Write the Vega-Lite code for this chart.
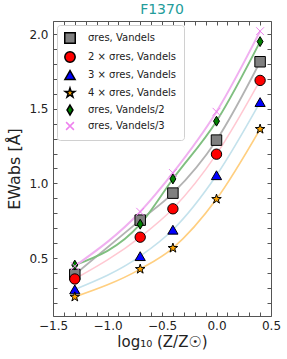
{
  "$schema": "https://vega.github.io/schema/vega-lite/v6.json",
  "width": 218,
  "height": 295,
  "autosize": {"type": "none"},
  "padding": {"left": 53, "top": 21, "right": 16, "bottom": 43},
  "title": {"text": "F1370", "color": "#239c9a", "fontSize": 14, "fontWeight": "normal", "font": "DejaVu Sans", "offset": 4},
  "config": {
    "font": "DejaVu Sans",
    "view": {"stroke": "#555", "strokeWidth": 1},
    "axis": {"grid": false, "domain": false, "tickColor": "#555", "labelColor": "#222", "titleColor": "#222", "titleFontWeight": "normal"},
    "legend": {"labelFontSize": 10, "labelColor": "#222", "strokeColor": "#d0d0d0", "cornerRadius": 3, "padding": 7, "rowPadding": 1, "labelOffset": 12, "fillColor": "white"}
  },
  "data": {"values": [
    {"x": -1.3, "ew": 0.39, "s": "σres, Vandels"},
    {"x": -0.7, "ew": 0.754, "s": "σres, Vandels"},
    {"x": -0.4, "ew": 0.935, "s": "σres, Vandels"},
    {"x": 0.0, "ew": 1.29, "s": "σres, Vandels"},
    {"x": 0.4, "ew": 1.815, "s": "σres, Vandels"},
    {"x": -1.3, "ew": 0.36, "s": "2 × σres, Vandels"},
    {"x": -0.7, "ew": 0.64, "s": "2 × σres, Vandels"},
    {"x": -0.4, "ew": 0.83, "s": "2 × σres, Vandels"},
    {"x": 0.0, "ew": 1.196, "s": "2 × σres, Vandels"},
    {"x": 0.4, "ew": 1.69, "s": "2 × σres, Vandels"},
    {"x": -1.3, "ew": 0.29, "s": "3 × σres, Vandels"},
    {"x": -0.7, "ew": 0.513, "s": "3 × σres, Vandels"},
    {"x": -0.4, "ew": 0.69, "s": "3 × σres, Vandels"},
    {"x": 0.0, "ew": 1.055, "s": "3 × σres, Vandels"},
    {"x": 0.4, "ew": 1.545, "s": "3 × σres, Vandels"},
    {"x": -1.3, "ew": 0.24, "s": "4 × σres, Vandels"},
    {"x": -0.7, "ew": 0.426, "s": "4 × σres, Vandels"},
    {"x": -0.4, "ew": 0.567, "s": "4 × σres, Vandels"},
    {"x": 0.0, "ew": 0.895, "s": "4 × σres, Vandels"},
    {"x": 0.4, "ew": 1.364, "s": "4 × σres, Vandels"},
    {"x": -1.3, "ew": 0.453, "s": "σres, Vandels/2"},
    {"x": -0.7, "ew": 0.727, "s": "σres, Vandels/2"},
    {"x": -0.4, "ew": 1.03, "s": "σres, Vandels/2"},
    {"x": 0.0, "ew": 1.417, "s": "σres, Vandels/2"},
    {"x": 0.4, "ew": 1.95, "s": "σres, Vandels/2"},
    {"x": -1.3, "ew": 0.446, "s": "σres, Vandels/3"},
    {"x": -0.7, "ew": 0.81, "s": "σres, Vandels/3"},
    {"x": -0.4, "ew": 1.07, "s": "σres, Vandels/3"},
    {"x": 0.0, "ew": 1.48, "s": "σres, Vandels/3"},
    {"x": 0.4, "ew": 2.02, "s": "σres, Vandels/3"}
  ]},
  "layer": [
    {
      "mark": {"type": "line", "interpolate": "monotone"},
      "encoding": {
        "x": {"field": "x", "type": "quantitative", "scale": {"domain": [-1.5, 0.5], "nice": false, "zero": false},
          "axis": {"orient": "bottom", "values": [-1.5,-1.4,-1.3,-1.2,-1.1,-1.0,-0.9,-0.8,-0.7,-0.6,-0.5,-0.4,-0.3,-0.2,-0.1,0.0,0.1,0.2,0.3,0.4,0.5],
            "labelExpr": "abs(datum.value*2 - round(datum.value*2)) < 0.001 ? replace(format(datum.value, '.1f'), '-', '−') : ''",
            "tickSize": -4,
            "labelPadding": 8, "labelFontSize": 12, "labelFlush": false, "labelOverlap": false,
            "title": "log₁₀ (Z/Z☉)", "titleFontSize": 15, "titlePadding": 3}},
        "y": {"field": "ew", "type": "quantitative", "scale": {"domain": [0.112, 2.088], "nice": false, "zero": false},
          "axis": {"orient": "left", "values": [0.2,0.3,0.4,0.5,0.6,0.7,0.8,0.9,1.0,1.1,1.2,1.3,1.4,1.5,1.6,1.7,1.8,1.9,2.0],
            "labelExpr": "abs(datum.value*2 - round(datum.value*2)) < 0.001 ? format(datum.value, '.1f') : ''",
            "tickSize": -4,
            "labelPadding": 9, "labelFontSize": 12, "labelOverlap": false,
            "title": "EWabs [Å]", "titleFontSize": 16, "titlePadding": 6}},
        "detail": {"field": "s"},
        "color": {"field": "s", "type": "nominal", "legend": null,
          "scale": {"range": ["#ffc8d2", "#c4e2ec", "#ffcf80", "#b3b3b3", "#80bf80", "#f0b0f0"]}},
        "strokeWidth": {"field": "s", "type": "nominal", "legend": null,
          "scale": {"range": [1.5, 2, 1.5, 2, 2.5, 1.5]}}
      }
    },
    {
      "mark": {"type": "line", "opacity": 0},
      "encoding": {
        "x": {"field": "x", "type": "quantitative", "axis": {"orient": "top", "values": [-1.5,-1.4,-1.3,-1.2,-1.1,-1.0,-0.9,-0.8,-0.7,-0.6,-0.5,-0.4,-0.3,-0.2,-0.1,0.0,0.1,0.2,0.3,0.4,0.5], "labels": false, "title": null, "tickSize": -4}},
        "y": {"field": "ew", "type": "quantitative", "axis": {"orient": "right", "values": [0.2,0.3,0.4,0.5,0.6,0.7,0.8,0.9,1.0,1.1,1.2,1.3,1.4,1.5,1.6,1.7,1.8,1.9,2.0], "labels": false, "title": null, "tickSize": -4}},
        "detail": {"field": "s"}
      }
    },
    {
      "mark": {"type": "point", "filled": true, "opacity": 1, "strokeWidth": 1},
      "encoding": {
        "x": {"field": "x", "type": "quantitative", "axis": null},
        "y": {"field": "ew", "type": "quantitative", "axis": null},
        "shape": {"field": "s", "type": "nominal",
          "scale": {"domain": ["σres, Vandels","2 × σres, Vandels","3 × σres, Vandels","4 × σres, Vandels","σres, Vandels/2","σres, Vandels/3"],
            "range": ["square", "circle", "triangle-up", "M0,-1L0.225,-0.309L0.951,-0.309L0.363,0.118L0.588,0.809L0,0.382L-0.588,0.809L-0.363,0.118L-0.951,-0.309L-0.225,-0.309Z", "M0,-1L0.6,0L0,1L-0.6,0Z", "M-0.8,-0.8L0.8,0.8M-0.8,0.8L0.8,-0.8"]},
          "legend": {"orient": "top-left", "offset": 4, "title": null}},
        "fill": {"field": "s", "type": "nominal",
          "scale": {"domain": ["σres, Vandels","2 × σres, Vandels","3 × σres, Vandels","4 × σres, Vandels","σres, Vandels/2","σres, Vandels/3"],
            "range": ["#808080", "#ff0000", "#0000ff", "#ffa500", "#008000", "transparent"]},
          "legend": {"orient": "top-left", "offset": 4, "title": null}},
        "stroke": {"field": "s", "type": "nominal",
          "scale": {"domain": ["σres, Vandels","2 × σres, Vandels","3 × σres, Vandels","4 × σres, Vandels","σres, Vandels/2","σres, Vandels/3"],
            "range": ["#000000", "#000000", "#000000", "#000000", "#000000", "#ee82ee"]},
          "legend": {"orient": "top-left", "offset": 4, "title": null}},
        "size": {"field": "s", "type": "nominal",
          "scale": {"domain": ["σres, Vandels","2 × σres, Vandels","3 × σres, Vandels","4 × σres, Vandels","σres, Vandels/2","σres, Vandels/3"],
            "range": [110, 95, 105, 120, 260, 150]},
          "legend": {"orient": "top-left", "offset": 4, "title": null}}
      }
    }
  ],
  "resolve": {"axis": {"x": "independent", "y": "independent"}}
}
